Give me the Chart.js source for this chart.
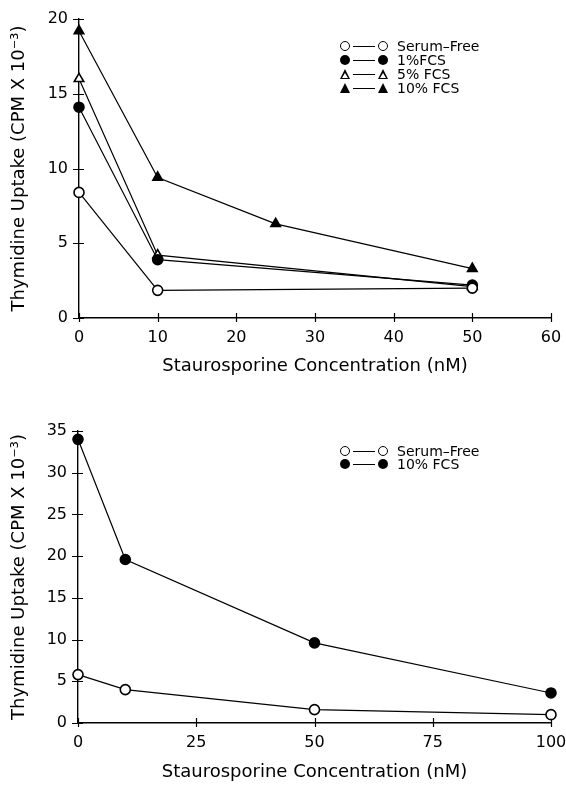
<!DOCTYPE html>
<html>
<head>
<meta charset="utf-8">
<script src="https://cdn.jsdelivr.net/npm/chart.js@4/dist/chart.umd.min.js"></script>
<style>
  html, body { margin:0; padding:0; background:#fff; }
  #wrap { position:relative; width:566px; height:786px; overflow:hidden; }
  canvas { position:absolute; left:0; }
  #c1 { top:0; }
  #c2 { top:380px; }
  .legend { position:absolute; font-family:"DejaVu Sans", sans-serif; font-size:14px; color:#000; line-height:14px; }
  .row { position:relative; height:14px; white-space:nowrap; }
  .row.b { height:12.5px; }
  .mk { position:absolute; top:2px; width:10px; height:10px; box-sizing:border-box; }
  .oc { border:1.7px solid #000; border-radius:50%; background:#fff; }
  .fc { background:#000; border-radius:50%; }
  .ot, .ft { width:0; height:0; border-left:5.5px solid transparent; border-right:5.5px solid transparent; border-bottom:10px solid #000; }
  .ot::after { content:""; position:absolute; left:-3px; top:3.5px; border-left:3px solid transparent; border-right:3px solid transparent; border-bottom:5px solid #fff; }
  .ln { position:absolute; top:7px; left:13px; width:22px; height:1.3px; background:#000; }
  .m1 { left:0; }
  .m2 { left:38px; }
  .tx { position:absolute; left:57px; top:0; }
</style>
</head>
<body>
<div id="wrap">
  <canvas id="c1" width="566" height="380"></canvas>
  <canvas id="c2" width="566" height="406"></canvas>
  <div class="legend" style="left:340px; top:39px;">
    <div class="row"><div class="mk oc m1"></div><div class="ln"></div><div class="mk oc m2"></div><span class="tx">Serum&#8211;Free</span></div>
    <div class="row"><div class="mk fc m1"></div><div class="ln"></div><div class="mk fc m2"></div><span class="tx">1%FCS</span></div>
    <div class="row"><div class="mk ot m1"></div><div class="ln"></div><div class="mk ot m2"></div><span class="tx">5% FCS</span></div>
    <div class="row"><div class="mk ft m1"></div><div class="ln"></div><div class="mk ft m2"></div><span class="tx">10% FCS</span></div>
  </div>
  <div class="legend" style="left:340px; top:444px;">
    <div class="row b"><div class="mk oc m1"></div><div class="ln"></div><div class="mk oc m2"></div><span class="tx">Serum&#8211;Free</span></div>
    <div class="row b"><div class="mk fc m1"></div><div class="ln"></div><div class="mk fc m2"></div><span class="tx">10% FCS</span></div>
  </div>
</div>
<script>
// ---- Data (top panel) ----
const topSerumFree = [{x:0,y:8.4},{x:10,y:1.85},{x:50,y:2.0}];
const topFCS1      = [{x:0,y:14.1},{x:10,y:3.9},{x:50,y:2.2}];
const topFCS5      = [{x:0,y:16.0},{x:10,y:4.2},{x:50,y:2.1}];
const topFCS10     = [{x:0,y:19.2},{x:10,y:9.4},{x:25,y:6.3},{x:50,y:3.3}];
// ---- Data (bottom panel) ----
const botSerumFree = [{x:0,y:5.8},{x:10,y:4.0},{x:50,y:1.6},{x:100,y:1.0}];
const botFCS10     = [{x:0,y:34.0},{x:10,y:19.6},{x:50,y:9.6},{x:100,y:3.6}];
// ---- Axis settings ----
const topXTicks = {min:0, max:60, step:10};
const topYTicks = {min:0, max:20, step:5};
const botXTicks = {min:0, max:100, step:25};
const botYTicks = {min:0, max:35, step:5};
const xTitle = "Staurosporine Concentration (nM)";
const yTitle = "Thymidine Uptake (CPM X 10\u207B\u00B3)";

const FONT = "'DejaVu Sans', sans-serif";

// draws tick marks that cross the axis line (as in the reference)
const crossTicks = {
  id:'crossTicks',
  beforeDatasetsDraw(chart){
    const ctx = chart.ctx, xs = chart.scales.x, ys = chart.scales.y;
    const a = chart.chartArea;
    ctx.save();
    ctx.strokeStyle = '#000'; ctx.lineWidth = 1.2;
    ctx.beginPath();
    xs.ticks.forEach(t => {
      const px = Math.round(xs.getPixelForValue(t.value)) + 0.5;
      ctx.moveTo(px, a.bottom - 5); ctx.lineTo(px, a.bottom + 4);
    });
    ys.ticks.forEach(t => {
      const py = Math.round(ys.getPixelForValue(t.value)) + 0.5;
      ctx.moveTo(a.left - 6, py); ctx.lineTo(a.left + 5, py);
    });
    ctx.stroke();
    ctx.restore();
  }
};

function ds(label, data, style, filled) {
  return {
    label, data,
    borderColor:'#000', borderWidth:1.2,
    pointStyle: style,
    pointRadius: style === 'triangle' ? 5.5 : 5,
    pointBorderWidth: 1.6,
    pointBackgroundColor: filled ? '#000' : '#fff',
    pointBorderColor:'#000',
    tension:0, fill:false, clip:false
  };
}

function makeChart(id, datasets, xt, yt, geom) {
  return new Chart(document.getElementById(id), {
    type:'line',
    data:{ datasets },
    plugins:[crossTicks],
    options:{
      responsive:false, animation:false, devicePixelRatio:1,
      layout:{ padding:{ top:geom.top, right:geom.right, left:0, bottom:0 } },
      plugins:{ legend:{display:false}, tooltip:{enabled:false} },
      scales:{
        x:{
          type:'linear', min:xt.min, max:xt.max,
          border:{ display:true, color:'#000', width:1.4 },
          grid:{ drawOnChartArea:false, color:'rgba(0,0,0,0)', tickLength:5 },
          ticks:{ stepSize:xt.step, color:'#000', font:{family:FONT, size:16}, padding:5, maxRotation:0 },
          title:{ display:true, text:xTitle, color:'#000', font:{family:FONT, size:18}, padding:{top:0, bottom:geom.xTitlePad} },
          afterFit(s){ s.height = geom.xh; s.paddingLeft = 0; s.paddingRight = 0; }
        },
        y:{
          type:'linear', min:yt.min, max:yt.max,
          border:{ display:true, color:'#000', width:1.4 },
          grid:{ drawOnChartArea:false, color:'rgba(0,0,0,0)', tickLength:6 },
          ticks:{ stepSize:yt.step, color:'#000', font:{family:FONT, size:16}, padding:5 },
          title:{ display:true, text:yTitle, color:'#000', font:{family:FONT, size:18}, padding:{top:9, bottom:0} },
          afterFit(s){ s.width = geom.yw; s.paddingTop = 0; s.paddingBottom = 0; }
        }
      }
    }
  });
}

makeChart('c1', [
  ds('Serum-Free', topSerumFree, 'circle', false),
  ds('1%FCS', topFCS1, 'circle', true),
  ds('5% FCS', topFCS5, 'triangle', false),
  ds('10% FCS', topFCS10, 'triangle', true)
], topXTicks, topYTicks, {top:19, right:15, xh:62, yw:79, xTitlePad:3});

makeChart('c2', [
  ds('Serum-Free', botSerumFree, 'circle', false),
  ds('10% FCS', botFCS10, 'circle', true)
], botXTicks, botYTicks, {top:51, right:15, xh:63, yw:78, xTitlePad:3});
</script>
</body>
</html>
